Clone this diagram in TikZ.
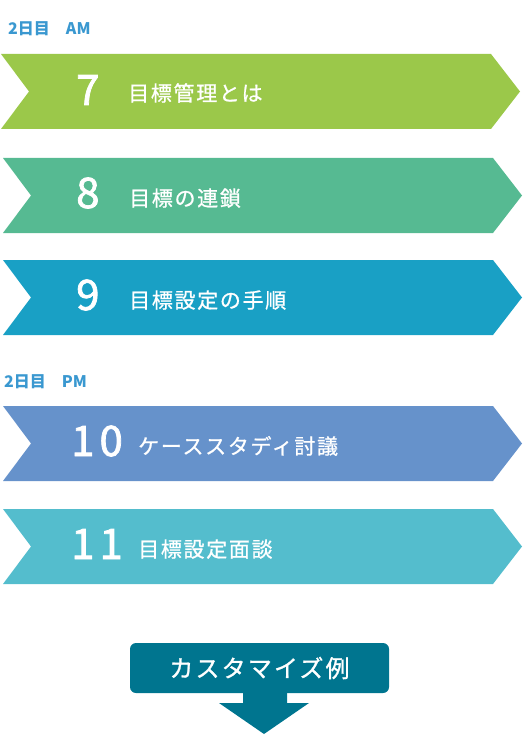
\documentclass[tikz,border=0pt]{standalone}
\usepackage{fontspec}
\setmainfont{Noto Sans CJK JP}
\newfontfamily\jptext{Noto Sans CJK JP}[LetterSpace=8, FakeBold=0.9]
\newfontfamily\jpnum{Noto Sans CJK JP}[LetterSpace=12, FakeBold=1.8]
\newfontfamily\jpbox{Noto Sans CJK JP}[LetterSpace=9, FakeBold=1.0]
\definecolor{cA}{HTML}{9BC84A}
\definecolor{cB}{HTML}{56BA92}
\definecolor{cC}{HTML}{19A0C5}
\definecolor{cD}{HTML}{6692CB}
\definecolor{cE}{HTML}{54BDCD}
\definecolor{cBox}{HTML}{00758F}
\definecolor{cHead}{HTML}{3A98D0}
\tikzset{
  head/.style={anchor=base west, inner sep=0pt, text=cHead, font=\fontsize{16}{16}\selectfont\bfseries},
  num/.style={anchor=base west, inner sep=0pt, text=white, font=\fontsize{42}{42}\selectfont\jpnum},
  label/.style={anchor=base west, inner sep=0pt, text=white, font=\fontsize{21}{21}\selectfont\jptext},
}
\begin{document}
\begin{tikzpicture}[x=1pt,y=-1pt]
\useasboundingbox (0,0) rectangle (522,735);
% banners
\foreach \L/\T/\c in {1/54/cA, 3/158/cB, 3/260/cC, 3/406/cD, 3/509/cE}{
  \fill[\c] (\L,\T) -- ({\L+490},\T) -- ({\L+519},{\T+37.5}) -- ({\L+490},{\T+75})
     -- (\L,{\T+75}) -- ({\L+28},{\T+37.5}) -- cycle;
}
% headers
\node[head] (hAM) at (8,35) {2日目　AM};
\node[head] (hPM) at (4,387) {2日目　PM};
% numbers and labels
\node[num] (n7) at (76,105) {7};
\node[label] (t7) at (128,101) {目標管理とは};
\node[num] (n8) at (76,208) {8};
\node[label] (t8) at (129,206) {目標の連鎖};
\node[num] (n9) at (76,310) {9};
\node[label] (t9) at (129,308) {目標設定の手順};
\node[num] (n10) at (71,456) {10};
\node[label] (t10) at (138,454) {ケーススタディ討議};
\node[num] (n11) at (71,559) {11};
\node[label] (t11) at (138,557) {目標設定面談};
% custom box and arrow
\fill[cBox] (243,690) -- (287,690) -- (287,703) -- (309,703) -- (264,734) -- (219,703) -- (243,703) -- cycle;
\node[fill=cBox, rounded corners=6pt, minimum width=259pt, minimum height=50pt, inner sep=0pt,
      text=white, font=\fontsize{24}{24}\selectfont\jpbox] (custom) at (259.5,668) {カスタマイズ例};
\end{tikzpicture}
\end{document}
